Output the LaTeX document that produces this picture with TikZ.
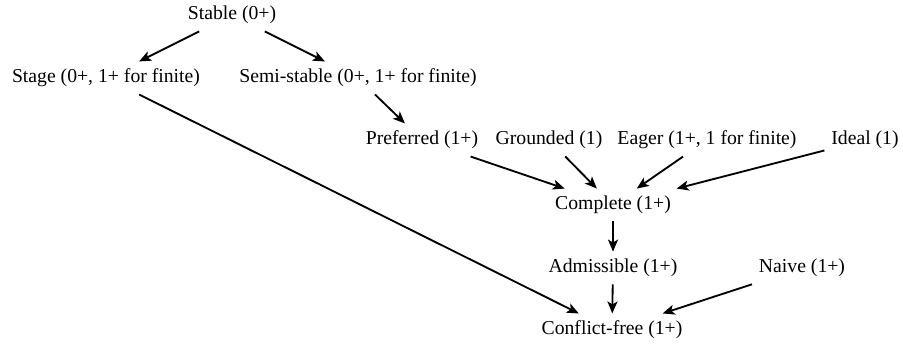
\documentclass[tikz,border=0pt]{standalone}
\usepackage{fontspec}
\setmainfont{Liberation Serif}
\usetikzlibrary{arrows.meta}
\begin{document}
\begin{tikzpicture}[x=1pt,y=-1pt,
  lbl/.style={inner xsep=7pt,inner ysep=7.5pt,outer sep=0pt,font=\fontsize{19.7}{24}\selectfont},
  arr/.style={line width=1.85pt,-{Stealth[length=12pt,width=10pt,inset=3pt]}}]
\useasboundingbox (0,0) rectangle (903,345);
\node[lbl] (stable) at (232,15) {Stable (0+)};
\node[lbl] (stage) at (106,78) {Stage (0+, 1+ for finite)};
\node[lbl] (semi) at (358,78) {Semi-stable (0+, 1+ for finite)};
\node[lbl] (pref) at (422,140) {Preferred (1+)};
\node[lbl] (ground) at (549,140) {Grounded (1)};
\node[lbl] (eager) at (707,140) {Eager (1+, 1 for finite)};
\node[lbl] (ideal) at (865,140) {Ideal (1)};
\node[lbl] (complete) at (613,205) {Complete (1+)};
\node[lbl] (adm) at (613,268) {Admissible (1+)};
\node[lbl] (naive) at (802,268) {Naive (1+)};
\node[lbl] (cf) at (612,330) {Conflict-free (1+)};
\draw[arr] (stable) -- (stage);
\draw[arr] (stable) -- (semi);
\draw[arr] (semi) -- (pref);
\draw[arr] (stage) -- (cf);
\draw[arr] (pref) -- (complete);
\draw[arr] (ground) -- (complete);
\draw[arr] (eager) -- (complete);
\draw[arr] (ideal) -- (complete);
\draw[arr] (complete) -- (adm);
\draw[arr] (adm) -- (cf);
\draw[arr] (naive) -- (cf);
\end{tikzpicture}
\end{document}
